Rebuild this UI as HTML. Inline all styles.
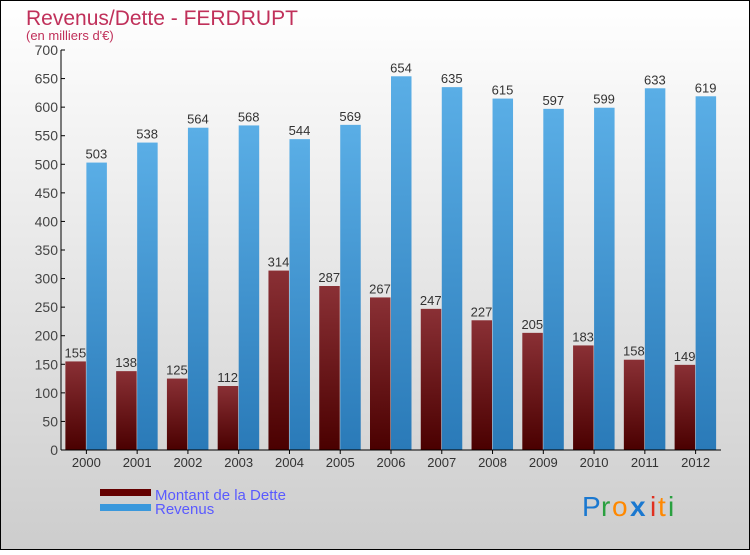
<!DOCTYPE html>
<html><head><meta charset="utf-8"><style>
body{margin:0;}
#c{width:750px;height:550px;position:relative;font-family:"Liberation Sans",sans-serif;}
</style></head><body>
<div id="c">
<svg id="s" width="750" height="550" xmlns="http://www.w3.org/2000/svg" font-family="Liberation Sans, sans-serif">
<defs>
<linearGradient id="bg" x1="0" y1="0" x2="0" y2="1"><stop offset="0" stop-color="#ffffff"/><stop offset="1" stop-color="#cdcdcd"/></linearGradient>
<linearGradient id="gd" x1="0" y1="0" x2="0" y2="1"><stop offset="0" stop-color="#8a3035"/><stop offset="1" stop-color="#4a0000"/></linearGradient>
<linearGradient id="gr" x1="0" y1="0" x2="0" y2="1"><stop offset="0" stop-color="#5aaee6"/><stop offset="1" stop-color="#2a7ab8"/></linearGradient>
</defs>
<rect x="0.5" y="0.5" width="749" height="549" fill="url(#bg)" stroke="#000"/>
<text x="26" y="25" font-size="21" fill="#c0305a">Revenus/Dette - FERDRUPT</text>
<text x="26" y="40" font-size="13" fill="#c0305a">(en milliers d'€)</text>
<g id="plot"></g>
<rect x="100" y="489" width="51" height="7" fill="#640000"/>
<rect x="100" y="504" width="51" height="7" fill="#3a98dc"/>
<text x="155" y="500" font-size="15" fill="#5a5aff">Montant de la Dette</text>
<text x="155" y="514" font-size="15" fill="#5a5aff">Revenus</text>
<g font-size="28">
<text x="582" y="516" fill="#1a78d0">P</text><text x="601" y="516" fill="#2aa040">r</text><text x="612" y="516" fill="#ff8800">o</text><text x="630" y="516" fill="#1a78d0" font-weight="bold">x</text><text x="650" y="516" fill="#e03020">i</text><text x="658" y="516" fill="#ff8800">t</text><text x="668" y="516" fill="#2aa040">i</text>
</g>
</svg>
</div>
<script>
const years=["2000","2001","2002","2003","2004","2005","2006","2007","2008","2009","2010","2011","2012"];
const dette=[155,138,125,112,314,287,267,247,227,205,183,158,149];
const revenus=[503,538,564,568,544,569,654,635,615,597,599,633,619];
const yTicks=[0,50,100,150,200,250,300,350,400,450,500,550,600,650,700];
const NS="http://www.w3.org/2000/svg";
const g=document.getElementById('plot');
const x0=61,x1=721,y0=450,y1=50,ymax=700;
const slot=(x1-x0)/years.length;
const y=v=>y0-(v/ymax)*(y0-y1);
function el(t,a){const e=document.createElementNS(NS,t);for(const k in a)e.setAttribute(k,a[k]);g.appendChild(e);return e;}
yTicks.forEach(v=>{
 const l=el('line',{x1:x0,x2:x0+4,y1:y(v),y2:y(v),stroke:'#000'});
 
 
 const t=el('text',{x:x0-3,y:y(v)+5,'font-size':14,fill:'#444','text-anchor':'end'});
 t.textContent=v;
 
 
});
years.forEach((yr,i)=>{
 const c=x0+slot*(i+0.5);
 const bd=el('rect',{x:c-21,y:y(dette[i]),width:20.5,height:y0-y(dette[i]),fill:'url(#gd)'});
 
 
 const br=el('rect',{x:c,y:y(revenus[i]),width:20.5,height:y0-y(revenus[i]),fill:'url(#gr)'});
 
 
 const td=el('text',{x:c-11,y:y(dette[i])-4,'font-size':13,fill:'#333','text-anchor':'middle'});
 td.textContent=dette[i];
 
 
 const tr=el('text',{x:c+10,y:y(revenus[i])-4,'font-size':13,fill:'#333','text-anchor':'middle'});
 tr.textContent=revenus[i];
 
 
 const tk=el('line',{x1:c,x2:c,y1:y0,y2:y0+4,stroke:'#000'});
 
 
 const tx=el('text',{x:c,y:y0+17,'font-size':13,fill:'#333','text-anchor':'middle'});
 tx.textContent=yr;
 
 
});
const ya=el('line',{x1:x0,x2:x0,y1:y1,y2:y0,stroke:'#000'});


const xa=el('line',{x1:x0,x2:x1,y1:y0,y2:y0,stroke:'#000'});


</script>
</body></html>
